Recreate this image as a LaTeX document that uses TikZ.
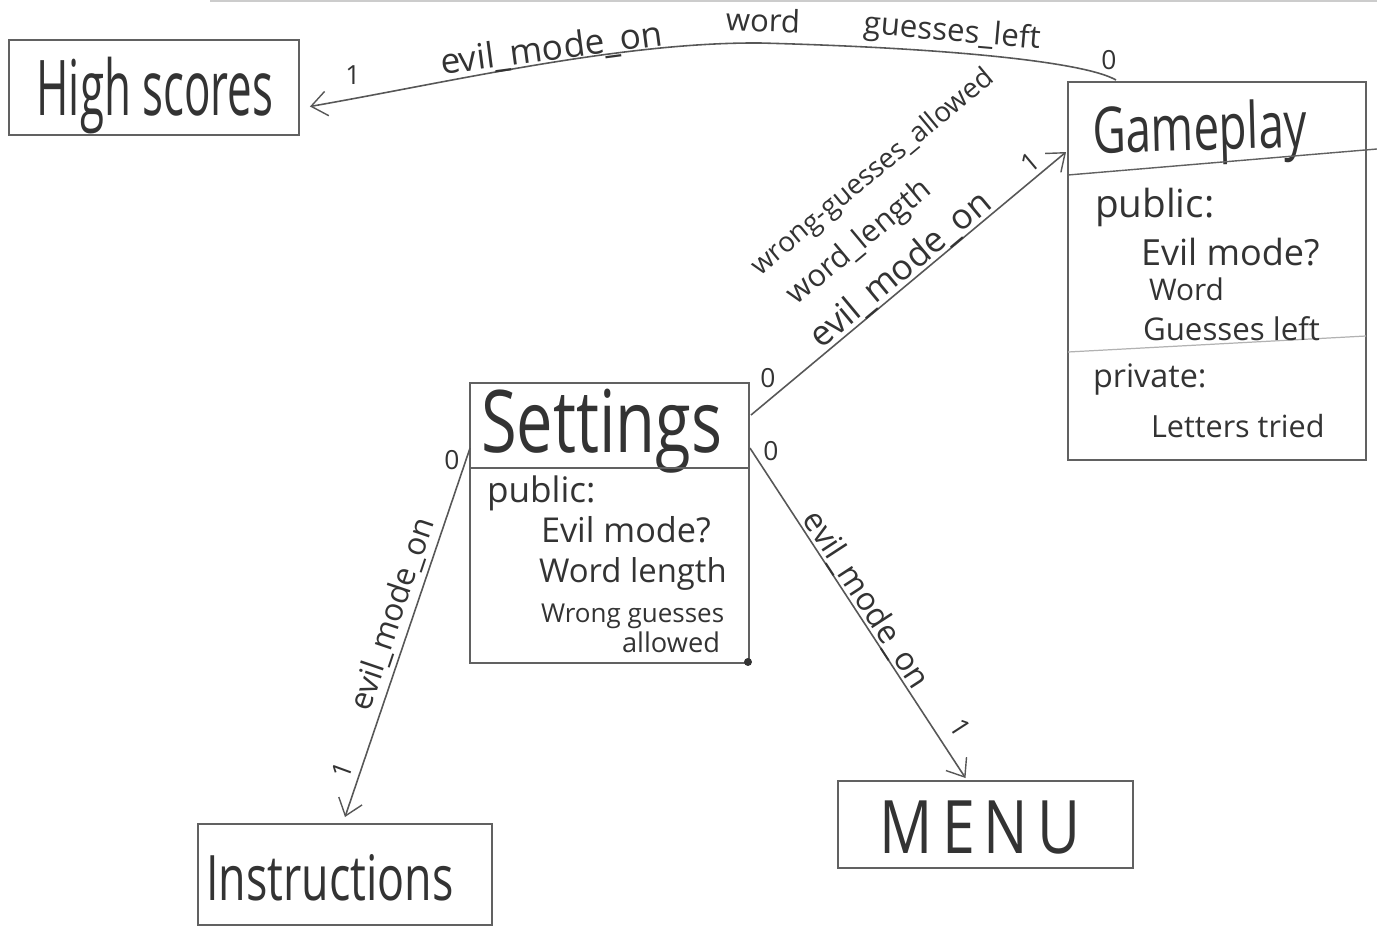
\documentclass[tikz,border=0pt]{standalone}
\usepackage{graphicx}
\usepackage{fontspec}
\setmainfont{Open Sans}
\usetikzlibrary{arrows.meta,calc}
\newcommand{\hw}[3]{\scalebox{#1}[#2]{#3}}
\tikzset{
  pencil/.style={draw=black!62, line width=0.8pt},
  box/.style={pencil, rectangle, inner sep=0pt, outer sep=0pt},
  conn/.style={draw=black!66, line width=0.9pt, -{Straight Barb[length=9pt,width=14pt,line width=0.8pt]}},
  txt/.style={inner sep=0pt, outer sep=0pt, text=black!80},
  fsz/.style={font=\fontsize{#1}{#1}\selectfont},
  mult/.style={txt, fsz=15},
}
\begin{document}
\begin{tikzpicture}[x=0.02cm,y=-0.02cm]
\useasboundingbox (0,0) rectangle (1377,933);
\draw[black!20, line width=0.8pt] (210,1) -- (1377,1);

% boxes
\node[box, minimum width=5.8cm, minimum height=1.9cm] (hs) at (154,87.5) {};
\node[box, minimum width=5.96cm, minimum height=7.56cm] (gp) at (1217,271) {};
\node[box, minimum width=5.58cm, minimum height=5.6cm] (st) at (609.5,523) {};
\node[box, minimum width=5.88cm, minimum height=2.02cm] (ins) at (345,874.5) {};
\node[box, minimum width=5.9cm, minimum height=1.74cm] (mn) at (985.5,824.5) {};

% titles
\node[txt, fsz=25, anchor=base] (hst) at (155,115) {\hw{1}{1.75}{High scores}};
\node[txt, fsz=25.5, anchor=base] (inst) at (330,900) {\hw{1}{1.4}{Instructions}};
\node[txt, fsz=42, anchor=base] (mnt) at (980,853) {\hw{0.8}{1}{\addfontfeature{LetterSpace=15}MENU}};
\node[txt, fsz=26, anchor=base west, rotate=1.5] (gpt) at (1093,153) {\hw{1}{1.4}{Gameplay}};
\node[txt, fsz=37, anchor=base west] (stt) at (481,452) {\hw{1}{1.33}{Settings}};

% dividers
\draw[pencil] (gp.west |- 0,175) -- (1377,149);
\draw[draw=black!30, line width=0.7pt] (gp.west |- 0,352) -- (gp.east |- 0,336);
\draw[pencil] (st.west |- 0,468) -- (st.east |- 0,468);
\fill[black!80] (st.south east) ++(-1,-1) circle (4);

% Gameplay body
\node[txt, fsz=22, anchor=base west] (gp1) at (1095,217) {public:};
\node[txt, fsz=20.5, anchor=base west] (gp2) at (1141,265) {Evil mode?};
\node[txt, fsz=17, anchor=base west] (gp3) at (1149,300) {Word};
\node[txt, fsz=17.8, anchor=base west] (gp4) at (1143,340) {Guesses left};
\node[txt, fsz=18.4, anchor=base west] (gp5) at (1093,387) {private:};
\node[txt, fsz=17.4, anchor=base west] (gp6) at (1151,437) {Letters tried};

% Settings body
\node[txt, fsz=20, anchor=base west] (st1) at (487,502) {public:};
\node[txt, fsz=19.5, anchor=base west] (st2) at (541,542) {Evil mode?};
\node[txt, fsz=18.7, anchor=base west] (st3) at (539,582) {Word length};
\node[txt, fsz=14.8, anchor=base west] (st4) at (541,622) {Wrong guesses};
\node[txt, fsz=15.5, anchor=base east] (st5) at (720,652) {allowed};

% connector anchors
\coordinate (c1s) at ($(gp.north west)+(48,-2)$);
\coordinate (c1e) at ($(hs.east)+(11,19)$);
\coordinate (c2s) at ($(st.north east)+(2,32)$);
\coordinate (c2e) at ($(gp.north west)+(-2,70)$);
\coordinate (c3s) at ($(st.north west)+(0,65)$);
\coordinate (c3e) at ($(ins.north)+(0,-7)$);
\coordinate (c4s) at ($(st.north east)+(1,65)$);
\coordinate (c4e) at ($(mn.north)+(-20,-3)$);

% connectors
\draw[conn] (c1s) .. controls (1085,62) and (950,48) .. (760,43)
                  .. controls (620,42) and (450,82) .. (c1e);
\draw[conn] (c2s) -- (c2e);
\draw[conn] (c3s) -- (c3e);
\draw[conn] (c4s) -- (c4e);

% labels on Gameplay -> High scores
\node[txt, fsz=20, rotate=7.5, anchor=base] (l1a) at (553,60) {evil\_mode\_on};
\node[txt, fsz=17.7, rotate=-2] (l1b) at (763,20) {word};
\node[txt, fsz=17.8, rotate=-5] (l1c) at (952,33) {guesses\_left};
\node[mult] (m1a) at (353,75) {1};
\node[mult] (m1b) at (1109,60) {0};

% labels on Settings -> Gameplay
\node[txt, fsz=20, rotate=39.8] (l2a) at (901,270) {evil\_mode\_on};
\node[txt, fsz=17.5, rotate=39.8] (l2b) at (860,243) {word\_length};
\node[txt, fsz=15.8, rotate=39.8] (l2c) at (873,173) {wrong-guesses\_allowed};
\node[mult] (m2a) at (768,378) {0};
\node[mult, rotate=40] (m2b) at (1030,162) {1};

% labels on Settings -> Instructions
\node[txt, fsz=18, rotate=71.3] (l3a) at (393,614) {evil\_mode\_on};
\node[mult] (m3a) at (452,460) {0};
\node[mult, rotate=70] (m3b) at (342,770) {1};

% labels on Settings -> MENU
\node[txt, fsz=18.3, rotate=-56.9] (l4a) at (866,600) {evil\_mode\_on};
\node[mult] (m4a) at (771,451) {0};
\node[mult, rotate=-57] (m4b) at (960,728) {1};
\end{tikzpicture}
\end{document}
